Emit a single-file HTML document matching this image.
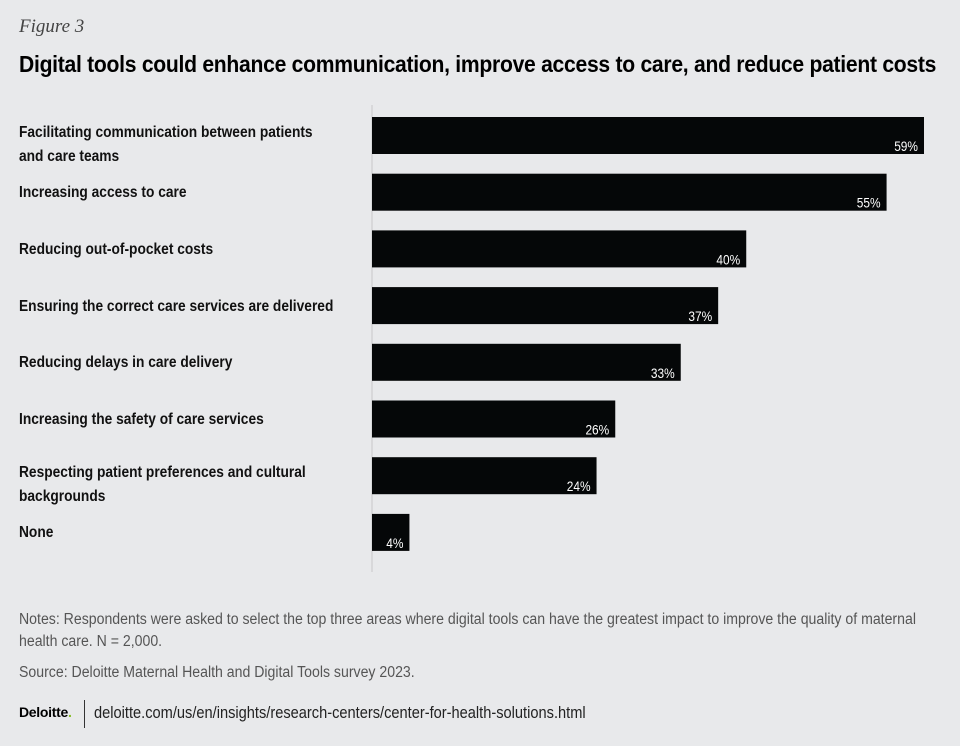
<!DOCTYPE html>
<html><head><meta charset="utf-8"><style>
body{margin:0;width:960px;height:746px;background:#e8e9eb;position:relative;overflow:hidden;font-family:"Liberation Sans",sans-serif;}
.abs{position:absolute;}
.fig{left:19px;top:16px;font-family:"Liberation Serif",serif;font-style:italic;font-size:19px;color:#444;}
.title{left:19px;top:51px;font-size:23px;font-weight:bold;color:#000;letter-spacing:-0.3px;white-space:nowrap;transform:scaleX(0.918);transform-origin:left top;}
.lab{left:19px;font-size:16px;font-weight:bold;color:#111;line-height:24px;white-space:nowrap;transform:scaleX(0.86);transform-origin:left top;}
.note{left:19px;font-size:15.5px;color:#555;line-height:22px;white-space:nowrap;transform:scaleX(0.91);transform-origin:left top;}
</style></head><body>
<div class="abs fig">Figure 3</div>
<div class="abs title">Digital tools could enhance communication, improve access to care, and reduce patient costs</div>
<div id="labels"></div>
<svg class="abs" style="left:0;top:0" width="960" height="600" id="chart"></svg>
<div class="abs note" style="top:609px">Notes: Respondents were asked to select the top three areas where digital tools can have the greatest impact to improve the quality of maternal<br>health care. N = 2,000.</div>
<div class="abs note" style="top:662px">Source: Deloitte Maternal Health and Digital Tools survey 2023.</div>
<div class="abs" style="left:19px;top:704px;font-weight:bold;font-size:14px;color:#000;letter-spacing:-0.3px">Deloitte<span style="color:#86bc25">.</span></div>
<div class="abs" style="left:84px;top:700px;width:1px;height:28px;background:#333"></div>
<div class="abs" style="left:94px;top:703px;font-size:17px;color:#222;white-space:nowrap;transform:scaleX(0.86);transform-origin:left top">deloitte.com/us/en/insights/research-centers/center-for-health-solutions.html</div>
<script>
const categories=["Facilitating communication between patients|and care teams","Increasing access to care","Reducing out-of-pocket costs","Ensuring the correct care services are delivered","Reducing delays in care delivery","Increasing the safety of care services","Respecting patient preferences and cultural|backgrounds","None"];
const values=[59,55,40,37,33,26,24,4];
const valueLabels=["59%","55%","40%","37%","33%","26%","24%","4%"];
const x0=372,pxPer=9.356,y0=117,step=56.7,bh=37;
const xs=v=>x0+v*pxPer, ys=i=>y0+i*step;
const svg=document.getElementById('chart'),NS="http://www.w3.org/2000/svg";
const ax=document.createElementNS(NS,'line');


ax.setAttribute('x1',x0);ax.setAttribute('x2',x0);ax.setAttribute('y1',105);ax.setAttribute('y2',572);
ax.setAttribute('stroke','#c8c8c8');ax.setAttribute('stroke-width','1');svg.appendChild(ax);
const labs=document.getElementById('labels');
values.forEach((v,i)=>{
 const r=document.createElementNS(NS,'rect');
 
 
 r.setAttribute('x',x0);r.setAttribute('y',ys(i));r.setAttribute('width',xs(v)-x0);r.setAttribute('height',bh);r.setAttribute('fill','#050708');
 svg.appendChild(r);
 const t=document.createElementNS(NS,'text');
 
 
 t.setAttribute('x',xs(v)-6);t.setAttribute('y',ys(i)+bh-3);t.setAttribute('text-anchor','end');
 t.setAttribute('fill','#fff');t.setAttribute('font-size','14');t.setAttribute('transform-origin',(xs(v)-6)+' 0');t.setAttribute('transform','scale(0.85,1)');
 t.textContent=valueLabels[i];svg.appendChild(t);
 const d=document.createElement('div');
 
 
 d.className='abs lab';
 const parts=categories[i].split('|');
 d.style.top=(ys(i)+bh/2-(parts.length>1?15:11))+'px';
 d.innerHTML=parts.join('<br>');
 labs.appendChild(d);
});
</script>
</body></html>
